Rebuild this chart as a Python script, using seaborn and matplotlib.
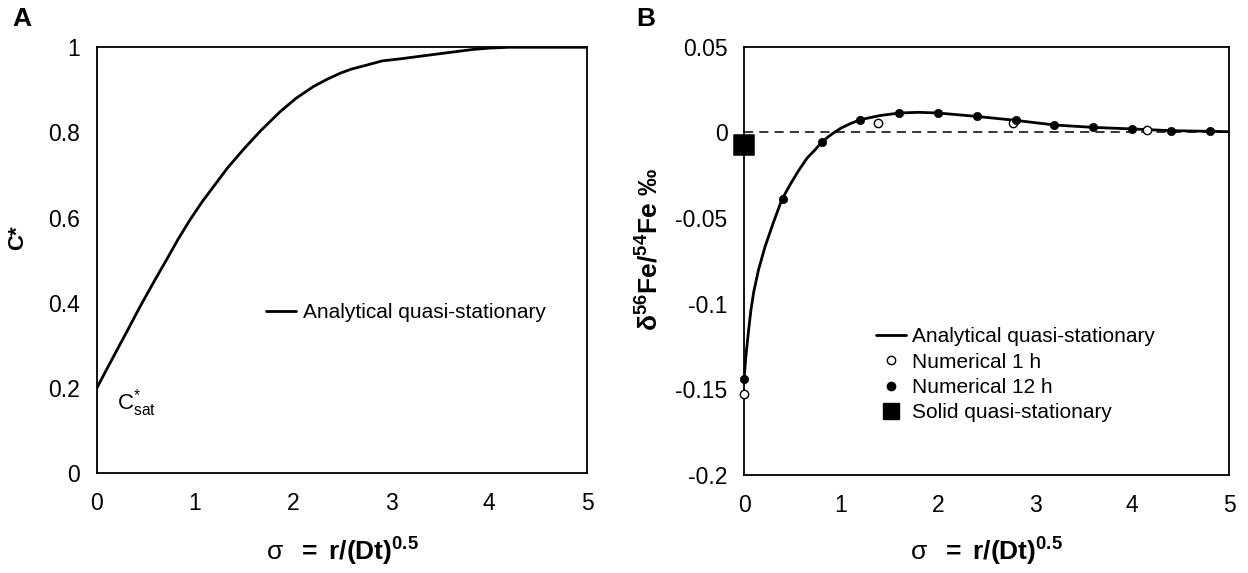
import matplotlib
matplotlib.use("Agg")
import matplotlib.pyplot as plt
import seaborn as sns
from matplotlib.ticker import FuncFormatter
from matplotlib.lines import Line2D

sns.set_theme(style="white")
plt.rcParams['font.family'] = ['Liberation Sans', 'DejaVu Sans']
plt.rcParams['mathtext.fontset'] = 'custom'
plt.rcParams['mathtext.rm'] = 'Liberation Sans'
plt.rcParams['mathtext.it'] = 'Liberation Sans'
plt.rcParams['mathtext.bf'] = 'Liberation Sans:bold'
plt.rcParams['axes.unicode_minus'] = False
plt.rcParams['text.color'] = 'black'
plt.rcParams['axes.labelcolor'] = 'black'

# panel A: analytical C* profile
sigma_a = [0.0, 0.1, 0.2, 0.3, 0.44, 0.6, 0.71, 0.83, 0.95, 1.07, 1.19, 1.33, 1.49, 1.67, 1.87, 2.03,
           2.21, 2.35, 2.48, 2.6, 2.75, 2.91, 3.1, 3.3, 3.5, 3.84, 4.0, 4.2, 5.0]
c_star = [0.2, 0.244, 0.287, 0.33, 0.391, 0.457, 0.501, 0.55, 0.595, 0.636, 0.673, 0.716, 0.759, 0.804,
          0.849, 0.88, 0.908, 0.925, 0.939, 0.949, 0.958, 0.968, 0.973, 0.979, 0.985, 0.995, 0.998, 1.0, 1.0]

# panel B: analytical delta curve
sigma_b = [0.0, 0.02, 0.044, 0.07, 0.1, 0.15, 0.216, 0.3, 0.39, 0.48, 0.56, 0.65, 0.73, 0.8, 0.87, 0.93,
           1.0, 1.1, 1.2, 1.4, 1.6, 1.8, 2.0, 2.4, 2.8, 3.2, 3.6, 4.0, 4.4, 4.8, 5.0]
delta_b = [-0.144, -0.13, -0.117, -0.104, -0.093, -0.08, -0.0668, -0.053, -0.0392, -0.03, -0.0225, -0.015,
           -0.0103, -0.0058, -0.0025, 0.0, 0.0025, 0.0052, 0.0074, 0.0098, 0.0113, 0.0117, 0.0113, 0.0093,
           0.007, 0.0043, 0.0029, 0.002, 0.001, 0.0006, 0.0004]

# numerical 1 h (open) and 12 h (filled)
sigma_1h = [0.0, 1.38, 2.77, 4.15]
delta_1h = [-0.1525, 0.0055, 0.0055, 0.0016]
sigma_12h = [0.0, 0.4, 0.8, 1.2, 1.6, 2.0, 2.4, 2.8, 3.2, 3.6, 4.0, 4.4, 4.8]
delta_12h = [-0.1438, -0.0387, -0.0058, 0.0074, 0.0113, 0.0113, 0.0093, 0.007, 0.0043, 0.0029, 0.002, 0.001, 0.0006]

# solid quasi-stationary
sigma_solid = [0.0]
delta_solid = [-0.0071]

fig = plt.figure(figsize=(12.48, 5.73), dpi=100)
axA = fig.add_axes([0.0777, 0.1745, 0.3927, 0.743])
axB = fig.add_axes([0.5962, 0.171, 0.3886, 0.7475])

tick_fs = 16.5
xlab = r"$\sigma$  $\mathbf{=\ r/(Dt)^{0.5}}$"

for ax in (axA, axB):
    for sp in ax.spines.values():
        sp.set_color("black")
        sp.set_linewidth(1.3)
    ax.tick_params(direction="in", length=5, width=1.1, colors="black", labelsize=tick_fs)
    ax.tick_params(axis="x", pad=14)
    ax.tick_params(axis="y", pad=12)
    ax.set_xlim(0, 5)
    ax.set_xticks([0, 1, 2, 3, 4, 5])
    ax.yaxis.set_major_formatter(FuncFormatter(lambda v, p: f"{v:g}"))
    ax.set_xlabel(xlab, fontsize=19, fontweight="bold", va="center")

# --- panel A
sns.lineplot(x=sigma_a, y=c_star, color="black", linewidth=2, ax=axA, sort=False,
             label="Analytical quasi-stationary")
axA.set_ylim(0, 1)
axA.set_yticks([0, 0.2, 0.4, 0.6, 0.8, 1.0])
axA.set_ylabel("C*", fontsize=16, fontweight="bold", va="center")
axA.yaxis.set_label_coords(-0.161, 0.552)
axA.xaxis.set_label_coords(0.5, -0.185)
axA.text(0.2, 0.165, r"C$^{*}_{\mathrm{sat}}$", fontsize=16, va="center", ha="left", color="black")
axA.legend(loc="center left", bbox_to_anchor=(0.345, 0.376), frameon=False, fontsize=15,
           handlelength=1.45, handletextpad=0.3, borderaxespad=0, borderpad=0)

# --- panel B
axB.axhline(0, color="black", linestyle=(0, (6, 4)), linewidth=1.1, zorder=1)
sns.lineplot(x=sigma_b, y=delta_b, color="black", linewidth=2, ax=axB, sort=False, zorder=2)
sns.scatterplot(x=sigma_1h, y=delta_1h, marker="o", s=36, facecolor="white", edgecolor="black",
                linewidth=1, ax=axB, zorder=3, clip_on=False)
sns.scatterplot(x=sigma_12h, y=delta_12h, marker="o", s=36, color="black", edgecolor="black",
                ax=axB, zorder=4, clip_on=False)
sns.scatterplot(x=sigma_solid, y=delta_solid, marker="s", s=190, color="black", edgecolor="black",
                ax=axB, zorder=5, clip_on=False)
axB.set_ylim(-0.2, 0.05)
axB.set_yticks([-0.2, -0.15, -0.1, -0.05, 0, 0.05])
axB.set_ylabel(r"$\mathbf{\delta^{56}Fe/^{54}Fe}$ ‰", fontsize=19, fontweight="bold", va="center")
axB.yaxis.set_label_coords(-0.194, 0.526)
axB.xaxis.set_label_coords(0.5, -0.179)

handles = [
    Line2D([], [], color="black", linewidth=2),
    Line2D([], [], marker="o", linestyle="none", markersize=6, markerfacecolor="white",
           markeredgecolor="black"),
    Line2D([], [], marker="o", linestyle="none", markersize=6, color="black"),
    Line2D([], [], marker="s", linestyle="none", markersize=12, color="black"),
]
labels = ["Analytical quasi-stationary", "Numerical 1 h", "Numerical 12 h", "Solid quasi-stationary"]
axB.legend(handles, labels, loc="center left", bbox_to_anchor=(0.272, 0.234), frameon=False,
           fontsize=15, handlelength=1.45, handletextpad=0.3, borderaxespad=0, borderpad=0,
           labelspacing=0.3)

fig.text(22 / 1248, 1 - 19 / 573, "A", fontsize=19, fontweight="bold", ha="center", va="center")
fig.text(646 / 1248, 1 - 19 / 573, "B", fontsize=19, fontweight="bold", ha="center", va="center")

fig.savefig("out.png", dpi=100)
